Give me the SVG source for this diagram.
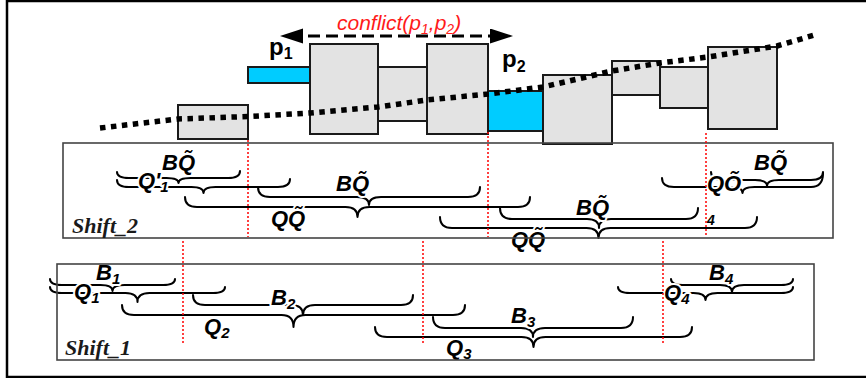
<svg xmlns="http://www.w3.org/2000/svg" width="866" height="378" viewBox="0 0 866 378">
<style>
.box{fill:#e3e3e3;stroke:#1a1a1a;stroke-width:2}
.cyan{fill:#00ccff;stroke:#1a1a1a;stroke-width:2}
.brace{fill:none;stroke:#000;stroke-width:2;stroke-linecap:round;stroke-linejoin:round}
.lbl{font-family:"Liberation Sans",Arial,sans-serif;font-weight:bold;font-style:italic;font-size:22px;fill:#000;stroke:#fff;stroke-width:4;paint-order:stroke;stroke-linejoin:round}
.sub{font-size:15px}
.plain{font-family:"Liberation Sans",Arial,sans-serif;font-weight:bold;font-style:italic;font-size:14px;fill:#000}
.shift{font-family:"Liberation Serif","Times New Roman",serif;font-weight:bold;font-style:italic;font-size:22px;fill:#1a1a1a}
.frame{fill:none;stroke:#444;stroke-width:1.6}
.vline{stroke:#ff0000;stroke-width:1.5;stroke-dasharray:2 2}
.p{font-family:"Liberation Sans",Arial,sans-serif;font-weight:bold;font-size:24px;fill:#000}
.conf{font-family:"Liberation Sans",Arial,sans-serif;font-style:italic;font-size:21px;fill:#ff1a1a}
</style>
<defs>
<marker id="ah" markerUnits="userSpaceOnUse" markerWidth="24" markerHeight="16" refX="13" refY="7.5" orient="auto-start-reverse"><path d="M0,0 L23,7.5 L0,15 Z" fill="#000"/></marker>
</defs>
<rect x="7" y="1" width="880" height="376" fill="none" stroke="#000" stroke-width="2.5"/>

<g id="blocks">
<g id="b1"><rect class="box" x="178" y="105" width="70" height="34"/></g>
<g id="p1block"><rect class="cyan" x="248" y="67" width="62" height="16"/></g>
<g id="b2"><rect class="box" x="310" y="44" width="68" height="90"/></g>
<g id="b3"><rect class="box" x="378" y="67" width="49" height="54"/></g>
<g id="b4"><rect class="box" x="427" y="44" width="61" height="90"/></g>
<g id="p2block"><rect class="cyan" x="488" y="91" width="55" height="40"/></g>
<g id="b5"><rect class="box" x="543" y="75" width="69" height="69"/></g>
<g id="b6"><rect class="box" x="612" y="61" width="48" height="34"/></g>
<g id="b7"><rect class="box" x="660" y="67" width="48" height="41"/></g>
<g id="b8"><rect class="box" x="708" y="47" width="69" height="82"/></g>
</g>

<path id="trend" d="M100,128 L178,119 L248,116.5 L310,113 L378,107 L427,100 L488,94 L543,87 L612,71 L660,63 L708,57 L777,46 L818,34" fill="none" stroke="#000" stroke-width="5.5" stroke-dasharray="5.5 5.5" stroke-linejoin="round"/>

<g id="connectors">
<line x1="290" y1="36" x2="503" y2="36" stroke="#000" stroke-width="3" stroke-dasharray="12 6" marker-start="url(#ah)" marker-end="url(#ah)"/>
</g>
<text class="conf" x="337" y="30">conflict(p<tspan font-size="14" dy="4">1</tspan><tspan dy="-4">,p</tspan><tspan font-size="14" dy="4">2</tspan><tspan dy="-4">)</tspan></text>
<text class="p" x="269" y="55">p<tspan font-size="16" dy="4">1</tspan></text>
<text class="p" x="502" y="67">p<tspan font-size="16" dy="5">2</tspan></text>

<g id="braces">
<path class="brace" d="M117,172 Q117,178 129,178 L166.5,178 Q178.5,178 178.5,183 Q178.5,178 190.5,178 L228,178 Q240,178 240,171"/>
<path class="brace" d="M117,180 Q117,187 129,187 L191.5,187 Q203.5,187 203.5,193 Q203.5,187 215.5,187 L278,187 Q290,187 290,179"/>
<path class="brace" d="M258,187 Q258,197 270,197 L357,197 Q369,197 369,205 Q369,197 381,197 L468,197 Q480,197 480,187"/>
<path class="brace" d="M185,197 Q185,207 197,207 L345.5,207 Q357.5,207 357.5,217 Q357.5,207 369.5,207 L518,207 Q530,207 530,197"/>
<path class="brace" d="M500,208 Q500,219 512,219 L587,219 Q599,219 599,228 Q599,219 611,219 L686,219 Q698,219 698,208"/>
<path class="brace" d="M440,217 Q440,228 452,228 L586.5,228 Q598.5,228 598.5,238 Q598.5,228 610.5,228 L745,228 Q757,228 757,217"/>
<path class="brace" d="M662,178 Q662,187 674,187 L730.5,187 Q742.5,187 742.5,193 Q742.5,187 754.5,187 L811,187 Q823,187 823,173"/>
<path class="brace" d="M711,172 Q711,180 723,180 L755,180 Q767,180 767,186 Q767,180 779,180 L811,180 Q823,180 823,172"/>

<path class="brace" d="M50,279 Q50,285 62,285 L100.5,285 Q112.5,285 112.5,291 Q112.5,285 124.5,285 L163,285 Q175,285 175,279"/>
<path class="brace" d="M50,287 Q50,293 62,293 L125.5,293 Q137.5,293 137.5,302 Q137.5,293 149.5,293 L213,293 Q225,293 225,287"/>
<path class="brace" d="M193,295 Q193,305 205,305 L291,305 Q303,305 303,315 Q303,305 315,305 L401,305 Q413,305 413,295"/>
<path class="brace" d="M122,305 Q122,315 134,315 L281.5,315 Q293.5,315 293.5,327 Q293.5,315 305.5,315 L453,315 Q465,315 465,305"/>
<path class="brace" d="M433,317 Q433,328 445,328 L521,328 Q533,328 533,337 Q533,328 545,328 L621,328 Q633,328 633,317"/>
<path class="brace" d="M375,327 Q375,337 387,337 L521.5,337 Q533.5,337 533.5,347 Q533.5,337 545.5,337 L680,337 Q692,337 692,327"/>
<path class="brace" d="M618,287 Q618,293 630,293 L693.5,293 Q705.5,293 705.5,300 Q705.5,293 717.5,293 L781,293 Q793,293 793,287"/>
<path class="brace" d="M671,279 Q671,285 683,285 L720,285 Q732,285 732,292 Q732,285 744,285 L781,285 Q793,285 793,279"/>
</g>

<g id="labels">
<text class="lbl" x="162" y="170">BQ&#x303;</text>
<text class="lbl" x="138" y="188">Q'<tspan class="sub" dy="4">1</tspan></text>
<text class="lbl" x="336" y="191">BQ&#x303;</text>
<text class="lbl" x="271" y="226">QQ&#x303;</text>
<text class="lbl" x="576" y="215">BQ&#x303;</text>
<text class="lbl" x="511" y="247">QQ&#x303;</text>
<text class="lbl" x="754" y="170">BQ&#x303;</text>
<text class="lbl" x="707" y="191">QÕ</text>
<text class="plain" x="707" y="225">4</text>

<text class="lbl" x="96" y="280">B<tspan class="sub" dy="4">1</tspan></text>
<text class="lbl" x="74" y="299">Q<tspan class="sub" dy="4">1</tspan></text>
<text class="lbl" x="271" y="305">B<tspan class="sub" dy="4">2</tspan></text>
<text class="lbl" x="204" y="334">Q<tspan class="sub" dy="4">2</tspan></text>
<text class="lbl" x="511" y="323">B<tspan class="sub" dy="4">3</tspan></text>
<text class="lbl" x="446" y="355">Q<tspan class="sub" dy="4">3</tspan></text>
<text class="lbl" x="664" y="300">Q<tspan class="sub" dy="4">4</tspan></text>
<text class="lbl" x="709" y="280">B<tspan class="sub" dy="4">4</tspan></text>
</g>

<g id="shift2"><rect class="frame" x="63" y="143" width="770" height="95"/><text class="shift" x="72" y="233">Shift_2</text></g>
<g id="shift1"><rect class="frame" x="57" y="264" width="757" height="96"/><text class="shift" x="65" y="355">Shift_1</text></g>

<g id="markers">
<line class="vline" x1="248" y1="140" x2="248" y2="237"/>
<line class="vline" x1="488" y1="132" x2="488" y2="237"/>
<line class="vline" x1="706" y1="133" x2="706" y2="237"/>
<line class="vline" x1="183" y1="241" x2="183" y2="344"/>
<line class="vline" x1="423" y1="241" x2="423" y2="344"/>
<line class="vline" x1="663" y1="241" x2="663" y2="344"/>
</g>
</svg>
